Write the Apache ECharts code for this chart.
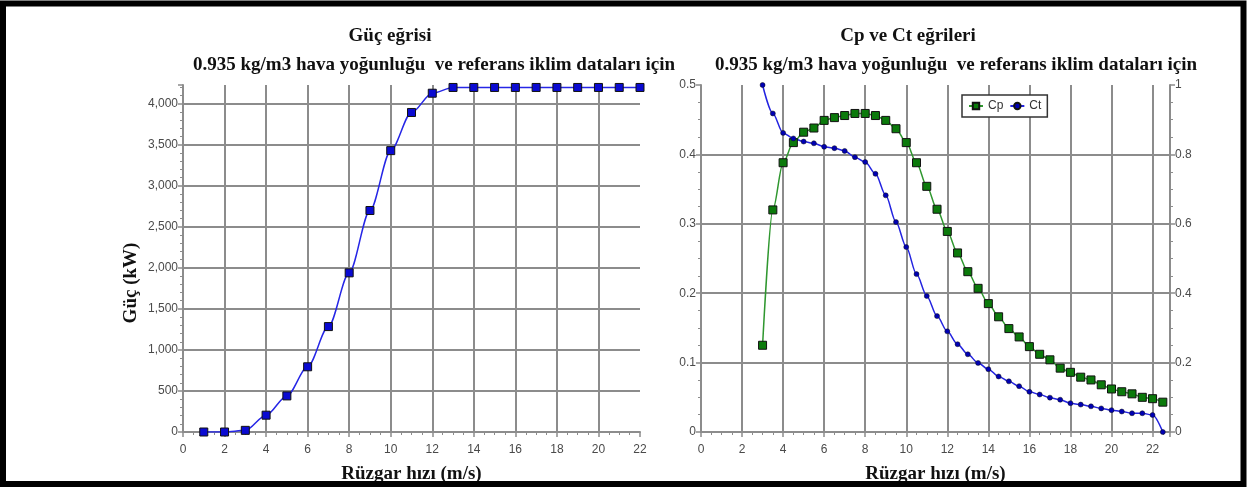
<!DOCTYPE html>
<html>
<head>
<meta charset="utf-8">
<script src="https://cdn.jsdelivr.net/npm/echarts@6/dist/echarts.min.js"></script>
<style>
  html, body { margin: 0; padding: 0; background: #fff; }
  #main { width: 1251px; height: 490px; }
</style>
</head>
<body>
<div id="main"></div>
<script>
// güç eğrisi verisi (m/s -> kW)
var powerWind = [1, 2, 3, 4, 5, 6, 7, 8, 9, 10, 11, 12, 13, 14, 15, 16, 17, 18, 19, 20, 21, 22];
var power = [0, 0, 20, 205, 440, 795, 1285, 1940, 2700, 3430, 3895, 4130, 4200, 4200, 4200, 4200, 4200, 4200, 4200, 4200, 4200, 4200];

// Cp / Ct eğrileri
var coefWind = [3, 3.5, 4, 4.5, 5, 5.5, 6, 6.5, 7, 7.5, 8, 8.5, 9, 9.5, 10, 10.5, 11, 11.5, 12, 12.5,
                13, 13.5, 14, 14.5, 15, 15.5, 16, 16.5, 17, 17.5, 18, 18.5, 19, 19.5, 20, 20.5, 21, 21.5, 22, 22.5];
var cp = [0.125, 0.320, 0.388, 0.417, 0.432, 0.438, 0.449, 0.453, 0.456, 0.459, 0.459, 0.456, 0.449, 0.437, 0.417, 0.388, 0.354, 0.321, 0.289, 0.258,
          0.231, 0.207, 0.185, 0.166, 0.149, 0.137, 0.123, 0.112, 0.104, 0.092, 0.086, 0.079, 0.075, 0.068, 0.062, 0.058, 0.055, 0.050, 0.048, 0.043];
var ct = [1.0, 0.918, 0.862, 0.846, 0.837, 0.832, 0.822, 0.818, 0.810, 0.792, 0.778, 0.744, 0.682, 0.605, 0.533, 0.455, 0.392, 0.334, 0.290, 0.253,
          0.224, 0.199, 0.181, 0.160, 0.146, 0.132, 0.116, 0.108, 0.099, 0.093, 0.083, 0.079, 0.074, 0.068, 0.063, 0.059, 0.054, 0.054, 0.049, 0.0];

var titles = ['Güç eğrisi', 'Cp ve Ct eğrileri'];
var subTitle = '0.935 kg/m3 hava yoğunluğu  ve referans iklim dataları için';
var xName = 'Rüzgar hızı (m/s)';
var yName = 'Güç (kW)';

function pairs(xs, ys) {
    return xs.map(function (x, i) { return [x, ys[i]]; });
}

var gridColor = '#8c8c8c';
var serifBold = { fontFamily: 'Liberation Serif', fontWeight: 'bold', fontSize: 19, color: '#111' };
var labelStyle = { color: '#4a4a4a', fontSize: 12, fontFamily: 'Liberation Sans' };

function baseAxis(extra) {
    var a = {
        type: 'value',
        axisLine: { show: true, lineStyle: { color: gridColor, width: 2 } },
        axisTick: { show: true, length: 5, lineStyle: { color: gridColor, width: 1.5 } },
        minorTick: { show: true, length: 3, lineStyle: { color: gridColor, width: 1 } },
        axisLabel: Object.assign({ margin: 5 }, labelStyle),
        splitLine: { show: true, showMaxLine: false, lineStyle: { color: gridColor, width: 2 } }
    };
    return Object.assign(a, extra);
}

var myChart = echarts.init(document.getElementById('main'));
var option = {
    backgroundColor: '#fff',
    animation: false,
    title: [
        { text: titles[0], left: 385, top: 22, textAlign: 'center', textStyle: serifBold },
        { text: subTitle, left: 429, top: 51, textAlign: 'center', textStyle: serifBold },
        { text: titles[1], left: 903, top: 22, textAlign: 'center', textStyle: serifBold },
        { text: subTitle, left: 951, top: 51, textAlign: 'center', textStyle: serifBold }
    ],
    legend: {
        data: ['Cp', 'Ct'],
        left: 962,
        top: 95,
        padding: [5, 6],
        itemGap: 6,
        itemWidth: 14,
        itemHeight: 8,
        backgroundColor: '#fff',
        borderColor: '#333',
        borderWidth: 1.5,
        textStyle: { fontSize: 12, color: '#333', fontFamily: 'Liberation Sans' }
    },
    grid: [
        { left: 183, top: 85, width: 457, height: 347 },
        { left: 701, top: 85, width: 469, height: 347 }
    ],
    xAxis: [
        baseAxis({
            gridIndex: 0, min: 0, max: 22, interval: 2,
            minorTick: { show: true, splitNumber: 4, length: 3, lineStyle: { color: gridColor } },
            axisLabel: Object.assign({ margin: 12 }, labelStyle),
            name: xName, nameLocation: 'middle', nameGap: 33, nameTextStyle: serifBold
        }),
        baseAxis({
            gridIndex: 1, min: 0, max: 22.85, interval: 2,
            minorTick: { show: true, splitNumber: 4, length: 3, lineStyle: { color: gridColor } },
            axisLabel: Object.assign({ margin: 12 }, labelStyle),
            name: xName, nameLocation: 'middle', nameGap: 33, nameTextStyle: serifBold
        })
    ],
    yAxis: [
        baseAxis({
            gridIndex: 0, min: 0, max: 4230, interval: 500,
            minorTick: { show: true, splitNumber: 5, length: 3, lineStyle: { color: gridColor } },
            axisLabel: Object.assign({
                margin: 5,
                formatter: function (v) { return v % 500 === 0 ? v.toLocaleString('en-US') : ''; }
            }, labelStyle)
        }),
        baseAxis({
            gridIndex: 1, min: 0, max: 0.5, interval: 0.1,
            minorTick: { show: true, splitNumber: 4, length: 3, lineStyle: { color: gridColor } }
        }),
        baseAxis({
            gridIndex: 1, min: 0, max: 1, interval: 0.2, position: 'right',
            minorTick: { show: true, splitNumber: 4, length: 3, lineStyle: { color: gridColor } },
            splitLine: { show: false }
        })
    ],
    series: [
        {
            name: 'Güç',
            type: 'line',
            xAxisIndex: 0,
            yAxisIndex: 0,
            data: pairs(powerWind, power),
            smooth: 0.3,
            smoothMonotone: 'x',
            symbol: 'rect',
            symbolSize: 8,
            itemStyle: { color: '#0a0ad2', borderColor: '#111', borderWidth: 1 },
            lineStyle: { color: '#2626e6', width: 1.5 }
        },
        {
            name: 'Cp',
            type: 'line',
            xAxisIndex: 1,
            yAxisIndex: 1,
            data: pairs(coefWind, cp),
            smooth: 0.3,
            smoothMonotone: 'x',
            symbol: 'rect',
            symbolSize: 8,
            itemStyle: { color: '#0b7a0b', borderColor: '#111', borderWidth: 1 },
            lineStyle: { color: '#2f972f', width: 1.5 }
        },
        {
            name: 'Ct',
            type: 'line',
            xAxisIndex: 1,
            yAxisIndex: 2,
            data: pairs(coefWind, ct),
            smooth: 0.3,
            smoothMonotone: 'x',
            symbol: 'circle',
            symbolSize: 5,
            itemStyle: { color: '#0000b4', borderColor: '#111', borderWidth: 0.5 },
            lineStyle: { color: '#2323e0', width: 1.5 }
        }
    ],
    graphic: [
        {
            type: 'text',
            x: 131,
            y: 283,
            rotation: Math.PI / 2,
            style: {
                text: yName,
                align: 'center',
                verticalAlign: 'middle',
                font: 'bold 19px "Liberation Serif"',
                fill: '#111'
            }
        },
        {
            type: 'rect',
            z: 100,
            shape: { x: 3, y: 3.5, width: 1240.5, height: 480.5 },
            style: { fill: null, stroke: '#000', lineWidth: 6 }
        }
    ]
};

myChart.setOption(option);
</script>
</body>
</html>
